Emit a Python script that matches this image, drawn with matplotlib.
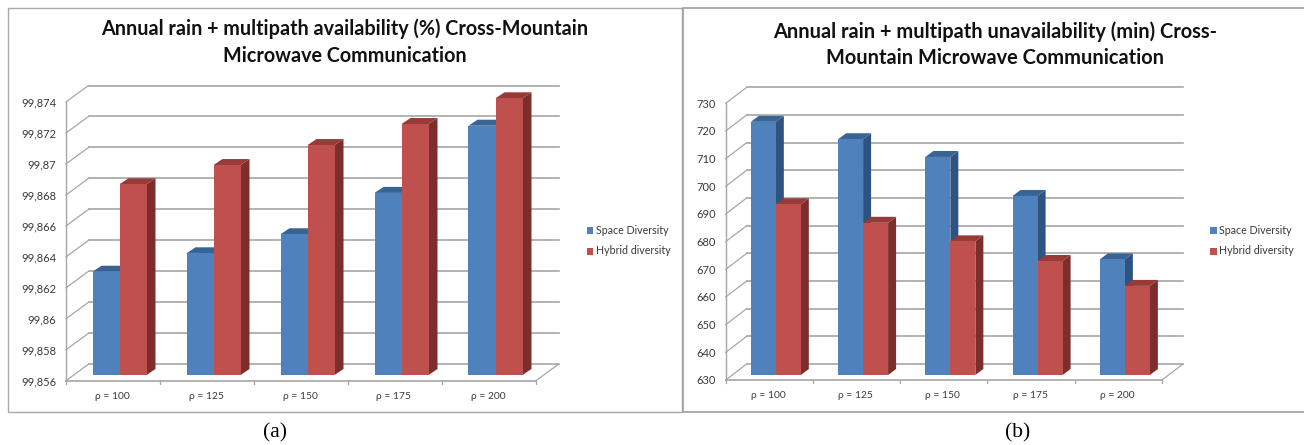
# Two Excel-style 3D clustered bar charts side by side

import matplotlib
matplotlib.use('Agg')
import matplotlib.pyplot as plt
from matplotlib.patches import Polygon, Rectangle
from matplotlib.transforms import Affine2D

W, H = 1304, 445
plt.rcParams['font.family'] = ['Lato', 'DejaVu Sans']

categories = ['ρ = 100', 'ρ = 125', 'ρ = 150', 'ρ = 175', 'ρ = 200']
series_names = ['Space Diversity', 'Hybrid diversity']

avail_space = [99.86267, 99.86386, 99.86509, 99.86776, 99.8721]
avail_hybrid = [99.86832, 99.86956, 99.87085, 99.87221, 99.87387]
avail_ticks = [99.856, 99.858, 99.86, 99.862, 99.864, 99.866, 99.868, 99.87, 99.872, 99.874]
avail_labels = ['99,856', '99,858', '99,86', '99,862', '99,864', '99,866', '99,868', '99,87', '99,872', '99,874']

unavail_space = [721.5, 715.2, 708.8, 694.7, 671.8]
unavail_hybrid = [691.7, 685.0, 678.3, 671.2, 662.2]
unavail_ticks = [630, 640, 650, 660, 670, 680, 690, 700, 710, 720, 730]

BLUE, BLUE_TOP, BLUE_SIDE = '#4f81bd', '#386495', '#2f5380'
RED, RED_TOP, RED_SIDE = '#c0504d', '#973a38', '#7d2e2c'
GRID = '#a6a6a6'
TEXT = '#3a3a3a'

fig = plt.figure(figsize=(W / 100, H / 100), dpi=100)


def draw_chart(box, back, bar_off, depth, bar_px, values, ticks, labels):
    # box = left, right, top, bottom of the front plane in image pixels
    x0, x1, y_top, y_bottom = box
    ax = fig.add_axes([x0 / W, 1 - y_bottom / H, (x1 - x0) / W, (y_bottom - y_top) / H])
    ax.set_xlim(0, len(categories))
    ax.set_ylim(ticks[0], ticks[-1])
    ax.axis('off')

    cat_px = (x1 - x0) / len(categories)
    val_px = (y_bottom - y_top) / (ticks[-1] - ticks[0])
    back_tr = ax.transData + Affine2D().translate(*back)
    bar_tr = ax.transData + Affine2D().translate(*bar_off)

    # walls: gridlines on the back, slanted on the left side
    for t in ticks:
        ax.plot([0, 5], [t, t], color=GRID, lw=1.2, transform=back_tr, clip_on=False, zorder=1)
        ax.plot([0, back[0] / cat_px], [t, t + back[1] / val_px], color=GRID, lw=0.9,
                clip_on=False, zorder=1)
    ax.plot([0, 0], [ticks[0], ticks[-1]], color=GRID, lw=1.0, clip_on=False, zorder=1)

    # floor
    ax.plot([0, 5], [ticks[0], ticks[0]], color=GRID, lw=1.2, clip_on=False, zorder=1)
    ax.plot([5, 5 + back[0] / cat_px], [ticks[0], ticks[0] + back[1] / val_px], color=GRID, lw=0.9,
            clip_on=False, zorder=1)
    for i in range(6):
        ax.plot([i, i], [ticks[0], ticks[0] - 3 / val_px], color=GRID, lw=0.9, clip_on=False, zorder=1)

    # bars: red after blue, so the red front hides the blue side
    w = bar_px / cat_px
    dx, dy = depth[0] / cat_px, depth[1] / val_px
    start = (cat_px - 2 * bar_px) / 2 / cat_px
    colours = [(BLUE, BLUE_TOP, BLUE_SIDE), (RED, RED_TOP, RED_SIDE)]
    for s, (vals, cols) in enumerate(zip(values, colours)):
        for i, v in enumerate(vals):
            left = i + start + s * w
            z = 3 + s
            ax.add_patch(Polygon([(left + w, ticks[0]), (left + w + dx, ticks[0] + dy),
                                  (left + w + dx, v + dy), (left + w, v)],
                                 fc=cols[2], ec='none', transform=bar_tr, clip_on=False, zorder=z))
            ax.add_patch(Polygon([(left, v), (left + w, v), (left + w + dx, v + dy), (left + dx, v + dy)],
                                 fc=cols[1], ec='none', transform=bar_tr, clip_on=False, zorder=z))
            ax.bar(left, v - ticks[0], w, bottom=ticks[0], align='edge', color=cols[0],
                   transform=bar_tr, clip_on=False, zorder=z)

    # axis texts
    for t, lab in zip(ticks, labels):
        ax.annotate(lab, (0, t), xytext=(-10, -1), textcoords='offset pixels', ha='right', va='center',
                    fontsize=8, color=TEXT, annotation_clip=False)
    for i, lab in enumerate(categories):
        ax.annotate(lab, (i + 0.5, ticks[0]), xytext=(-1, -16), textcoords='offset pixels', ha='center',
                    va='center', fontsize=7.4, color=TEXT, annotation_clip=False)
    return ax


def fig_text(x, y, s, **kw):
    fig.text(x / W, 1 - y / H, s, **kw)


def fig_rect(x, y, w, h, **kw):
    fig.add_artist(Rectangle((x / W, 1 - (y + h) / H), w / W, h / H, transform=fig.transFigure, **kw))


# panel frames, under the axes
fig_rect(7.5, 8, 675, 404, fc='white', ec='#a9a9a9', lw=1.0, zorder=-2)
fig_rect(683, 8, 640, 404, fc='white', ec='#a0a0a0', lw=1.2, zorder=-1)

draw_chart((66, 536, 102, 380.7), (22.5, 16.5), (6.5, 5.7), (9, 6), 27, [avail_space, avail_hybrid],
           avail_ticks, avail_labels)
draw_chart((725.7, 1162, 103.3, 380), (21, 16), (6.5, 5), (8, 6), 25, [unavail_space, unavail_hybrid],
           unavail_ticks, [str(t) for t in unavail_ticks])

title_kw = dict(ha='center', va='center', fontsize=14.2, fontweight='bold', color='#111111')
fig_text(345, 29, 'Annual rain + multipath availability (%) Cross-Mountain', **title_kw)
fig_text(345, 56, 'Microwave Communication', **title_kw)
title_kw['fontsize'] = 14.4
fig_text(995, 32, 'Annual rain + multipath unavailability (min) Cross-', **title_kw)
fig_text(995, 58, 'Mountain Microwave Communication', **title_kw)

# legends
legend_kw = dict(ha='left', va='center', fontsize=7.7, color=TEXT)
for lx, ly0, ly1 in [(586.5, 230, 251), (1210, 230, 251)]:
    fig_rect(lx, ly0 - 3, 6.5, 6.5, fc=BLUE, ec='none')
    fig_rect(lx, ly1 - 3, 6.5, 6.5, fc=RED, ec='none')
    fig_text(lx + 9, ly0, series_names[0], **legend_kw)
    fig_text(lx + 9, ly1, series_names[1], **legend_kw)

# captions
cap_kw = dict(ha='center', va='center', fontsize=15.5, family='Liberation Serif', color='black')
fig_text(275, 432.5, '(a)', **cap_kw)
fig_text(1018, 432.5, '(b)', **cap_kw)

fig.savefig('out.png', dpi=100, facecolor='white')
